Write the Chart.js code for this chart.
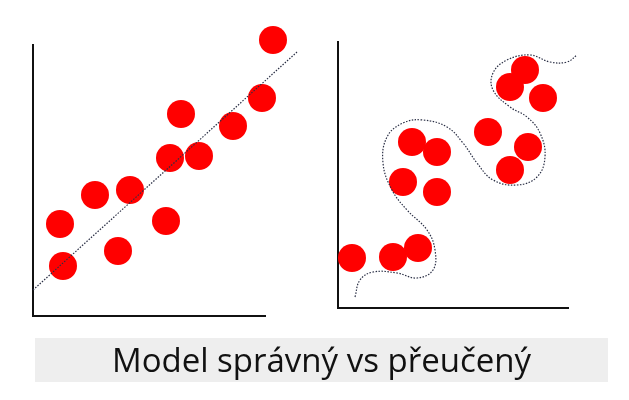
<!DOCTYPE html><html><head><meta charset="utf-8">
<script src="https://cdn.jsdelivr.net/npm/chart.js@4"></script>
<style>
body{margin:0;background:#fff;width:629px;height:400px;overflow:hidden;position:relative}
canvas{position:absolute;left:0;top:0}
#cap{position:absolute;left:35px;top:338px;width:573px;height:44px;background:#eeeeee;font-family:"Open Sans";font-size:33px;line-height:44px;text-align:center;color:#111}
</style></head><body>
<div style="position:absolute;left:0;top:0;width:629px;height:400px"><canvas id="a"></canvas></div>
<div style="position:absolute;left:0;top:0;width:629px;height:400px"><canvas id="b"></canvas></div>
<div id="cap">Model správný vs přeučený</div>
<script>
const leftX=[273,262,181,233,170,199,130,95,60,166,118,63];
const leftY=[40,98,114,126,158,156,190,195,224,221,251,266];
const lineX=[33,297];
const lineY=[290,52];
const rightX=[352,393,418,412,437,403,437,488,528,510,510,525,543];
const rightY=[258,257,248,142,152,182,192,132,147,170,87,70,98];
const curveX=[355,360,373,397,417,433,435,427,407,392,383,387,403,423,447,463,477,493,517,537,545,540,527,510,493,493,507,530,550,567,577];
const curveY=[297,280,272,273,278,270,250,230,210,190,163,137,123,120,127,143,163,180,185,177,157,133,117,107,90,73,60,55,62,62,55];
const pts=(xs,ys)=>xs.map((x,i)=>({x,y:ys[i]}));
function mk(id,box,dots,line,tension){
  new Chart(document.getElementById(id),{
    data:{datasets:[
      {type:'line',data:line,borderColor:'#2a2f45',borderWidth:1.2,borderDash:[1.5,1.5],pointRadius:0,tension:tension,clip:false},
      {type:'scatter',data:dots,backgroundColor:'#ff0000',borderColor:'#ff0000',pointRadius:14,borderWidth:0,clip:false}
    ]},
    options:{responsive:false,animation:false,devicePixelRatio:1,
      layout:{padding:{left:box[0],top:box[1],right:629-box[2],bottom:400-box[3]}},
      plugins:{legend:{display:false},tooltip:{enabled:false}},
      scales:{
        x:{type:'linear',min:box[0],max:box[2],ticks:{display:false},grid:{display:false,drawTicks:false},border:{display:true,color:'#111',width:2}},
        y:{type:'linear',reverse:true,min:box[1],max:box[3],ticks:{display:false},grid:{display:false,drawTicks:false},border:{display:true,color:'#111',width:2}}
      }}
  });
}
document.getElementById('a').width=629;document.getElementById('a').height=400;
document.getElementById('b').width=629;document.getElementById('b').height=400;
mk('a',[33,45,265,316],pts(leftX,leftY),pts(lineX,lineY),0);
mk('b',[338,42,568,308],pts(rightX,rightY),pts(curveX,curveY),0.4);
</script></body></html>
